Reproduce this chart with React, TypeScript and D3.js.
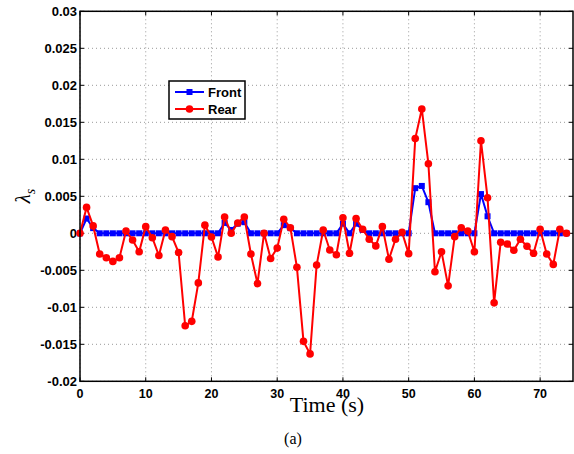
import React from "react";
import * as d3 from "d3";

const times: number[] = d3.range(0, 75);
const rear: number[] = [
  0, 0.0035, 0.001, -0.0028, -0.0033, -0.0038, -0.0033, 0.0003, -0.0009, -0.0025,
  0.0009, -0.0006, -0.003, 0.00045, -0.00045, -0.0026, -0.0125, -0.0119, -0.0067, 0.0011,
  -0.0005, -0.0032, 0.0022, 0.0, 0.0014, 0.0022, -0.0028, -0.0068, 0.0, -0.0034,
  -0.002, 0.0019, 0.00076, -0.0046, -0.0146, -0.0163, -0.0043, 0.00045, -0.00225, -0.0029,
  0.0021, -0.0027, 0.002, 0.00054, -0.0008, -0.0017, 0.0009, -0.0035, -0.0008, 0.00013,
  -0.00275, 0.0128, 0.0168, 0.0094, -0.0052, -0.0025, -0.0071, -0.00045, 0.00076, 0.0003,
  -0.0025, 0.0125, 0.0048, -0.0094, -0.0012, -0.00145, -0.0023, -0.0008, -0.00176, -0.0027,
  0.00054, -0.0028, -0.0042, 0.00054, 0,
];
const front: number[] = [
  0, 0.002, 0.0007, 0, 0, 0, 0, 0, 0, 0,
  0, 0, 0, 0, 0, 0, 0, 0, 0, 0,
  0, 0, 0.0014, 0.00045, 0.0013, 0.0015, 0, 0, 0, 0,
  0, 0.0011, 0.0007, 0, 0, 0, 0, 0, 0, 0,
  0.0013, 0, 0.0013, 0.00045, 0, 0, 0, 0, 0, 0,
  0, 0.0061, 0.0064, 0.0042, 0, 0, 0, 0, 0, 0,
  0, 0.0053, 0.0023, 0, 0, 0, 0, 0, 0, 0,
  0, 0, 0, 0, 0,
];
const xTicks: number[] = [0, 10, 20, 30, 40, 50, 60, 70];
const yTicks: number[] = [-0.02, -0.015, -0.01, -0.005, 0, 0.005, 0.01, 0.015, 0.02, 0.025, 0.03];
const seriesNames: string[] = ["Front", "Rear"];

const W = 574;
const H = 454;
const L = 80, R = 573, T = 11.3, B = 381.3;

export default function App() {
  const x = d3.scaleLinear().domain([0, 75]).range([L, R]);
  const y = d3.scaleLinear().domain([-0.02, 0.03]).range([B, T]);
  const line = d3
    .line<number>()
    .x((_, i) => x(times[i]))
    .y((d) => y(d));
  const yFmt = (v: number) => (Math.abs(v) < 1e-12 ? "0" : String(+v.toFixed(3)));
  const tickFont = "'Liberation Sans', Arial, Helvetica, sans-serif";

  return (
    <svg
      width={W}
      height={H}
      viewBox={`0 0 ${W} ${H}`}
      style={{ position: "absolute", left: 0, top: 0, background: "#fff" }}
    >
      <rect x={0} y={0} width={W} height={H} fill="#fff" />
      {/* grid */}
      {xTicks.map((t) => (
        <line key={"gx" + t} x1={x(t)} x2={x(t)} y1={T} y2={B} stroke="#999" strokeWidth={1} strokeDasharray="1,3" />
      ))}
      {yTicks.map((t) => (
        <line key={"gy" + t} x1={L} x2={R} y1={y(t)} y2={y(t)} stroke="#999" strokeWidth={1} strokeDasharray="1,3" />
      ))}
      {/* ticks */}
      {xTicks.map((t) => (
        <g key={"tx" + t}>
          <line x1={x(t)} x2={x(t)} y1={B} y2={B - 4} stroke="#000" />
          <line x1={x(t)} x2={x(t)} y1={T} y2={T + 4} stroke="#000" />
          <text x={x(t)} y={397.5} textAnchor="middle" fontFamily={tickFont} fontWeight="bold" fontSize={12.5}>
            {t}
          </text>
        </g>
      ))}
      {yTicks.map((t) => (
        <g key={"ty" + t}>
          <line x1={L} x2={L + 4} y1={y(t)} y2={y(t)} stroke="#000" />
          <line x1={R} x2={R - 4} y1={y(t)} y2={y(t)} stroke="#000" />
          <text x={77} y={y(t)} dy="0.35em" textAnchor="end" fontFamily={tickFont} fontWeight="bold" fontSize={13}>
            {yFmt(t)}
          </text>
        </g>
      ))}
      {/* series */}
      <path d={line(front) || ""} fill="none" stroke="#0000ff" strokeWidth={2} />
      {front.map((v, i) => (
        <rect key={"f" + i} x={x(times[i]) - 3} y={y(v) - 3} width={6} height={6} fill="#0000ff" />
      ))}
      <path d={line(rear) || ""} fill="none" stroke="#ff0000" strokeWidth={2} />
      {rear.map((v, i) => (
        <circle key={"r" + i} cx={x(times[i])} cy={y(v)} r={3.8} fill="#ff0000" />
      ))}
      {/* axes box */}
      <rect x={L} y={T} width={R - L} height={B - T} fill="none" stroke="#000" strokeWidth={1.5} />
      {/* legend */}
      <g>
        <rect x={169} y={81} width={76} height={38} fill="#fff" stroke="#000" strokeWidth={1.5} />
        <line x1={175} x2={204} y1={92} y2={92} stroke="#0000ff" strokeWidth={2} />
        <rect x={186.5} y={89} width={6} height={6} fill="#0000ff" />
        <text x={208} y={92} dy="0.35em" fontFamily={tickFont} fontWeight="bold" fontSize={13}>
          {seriesNames[0]}
        </text>
        <line x1={175} x2={204} y1={109} y2={109} stroke="#ff0000" strokeWidth={2} />
        <circle cx={189.5} cy={109} r={3.8} fill="#ff0000" />
        <text x={208} y={109} dy="0.35em" fontFamily={tickFont} fontWeight="bold" fontSize={13}>
          {seriesNames[1]}
        </text>
      </g>
      {/* labels */}
      <text x={327} y={412} textAnchor="middle" fontFamily="'Liberation Serif', 'Times New Roman', serif" fontSize={22}>
        Time (s)
      </text>
      <text x={293} y={444} textAnchor="middle" fontFamily="'Liberation Serif', 'Times New Roman', serif" fontSize={16}>
        (a)
      </text>
      <text
        transform="translate(30,196) rotate(-90)"
        textAnchor="middle"
        fontFamily="'Liberation Serif', 'Times New Roman', serif"
        fontSize={21}
      >
        <tspan fontStyle="italic">λ</tspan>
        <tspan fontSize={14} dy={5} fontStyle="italic">s</tspan>
      </text>
    </svg>
  );
}
